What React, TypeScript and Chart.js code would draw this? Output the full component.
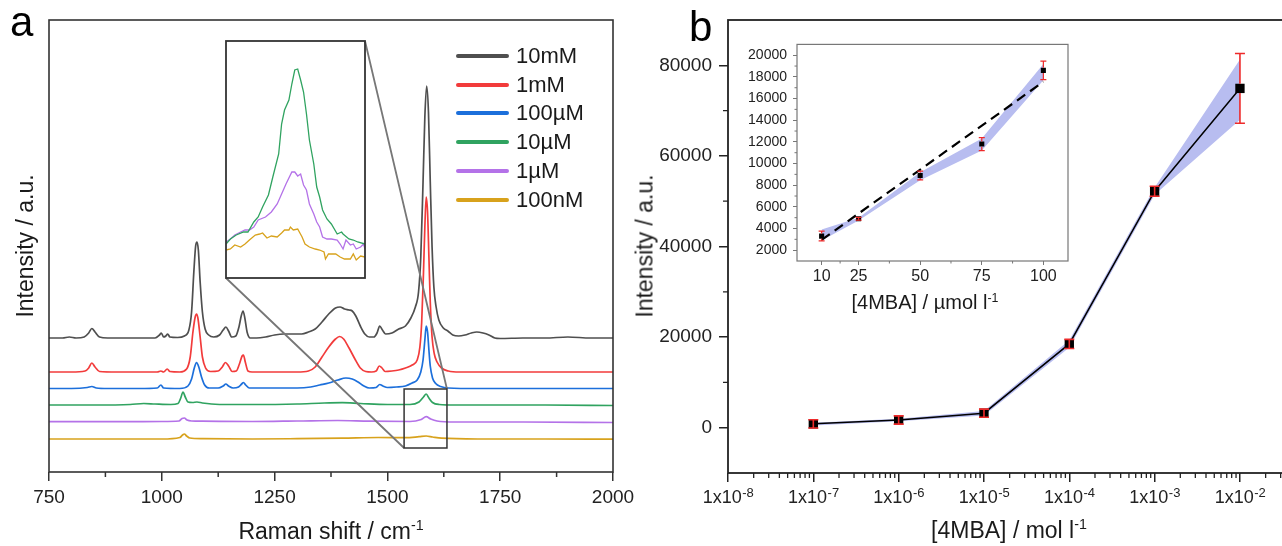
import React, { useEffect, useRef } from 'react';
import { Chart, registerables } from 'chart.js';
Chart.register(...registerables);

const FONT = '"Liberation Sans", Arial, Helvetica, sans-serif';

// ---------------- Panel a : Raman spectra ----------------
const spectraLabels = ['10mM', '1mM', '100µM', '10µM', '1µM', '100nM'];
const spectraColors = ['#4f4f4f', '#f23b3b', '#1c6fdb', '#30a360', '#b472e8', '#d8a21c'];

const spec10mM: number[][] = [
  [750, 134], [780, 134], [795, 135], [810, 134], [828, 135], [838, 139], [845, 143.5], [852, 140], [862, 135], [880, 134],
  [920, 134], [960, 134], [985, 134], [995, 137], [999, 139], [1004, 135], [1009, 136], [1013, 138], [1018, 135], [1035, 134.5],
  [1050, 136], [1060, 142], [1066, 160], [1071, 200], [1075, 226], [1078, 230], [1081, 222], [1085, 190], [1090, 160], [1096, 143],
  [1104, 137], [1115, 135], [1128, 137], [1136, 142], [1142, 145], [1148, 141], [1155, 135], [1164, 136], [1171, 145], [1176, 156],
  [1180, 161], [1184, 154], [1189, 140], [1196, 134], [1210, 134], [1230, 135], [1250, 137], [1270, 138], [1290, 138], [1310, 138],
  [1325, 140], [1340, 143], [1355, 150], [1370, 158], [1385, 164], [1395, 165], [1405, 163], [1415, 162], [1422, 161], [1430, 156],
  [1440, 146], [1450, 138], [1460, 135], [1470, 135], [1477, 139], [1483, 146], [1489, 142], [1496, 138], [1510, 139], [1525, 143],
  [1540, 146], [1552, 154], [1562, 165], [1569, 180], [1574, 215], [1579, 290], [1583, 355], [1587, 386], [1591, 360], [1595, 290],
  [1599, 225], [1603, 185], [1608, 165], [1614, 152], [1624, 144], [1634, 141], [1645, 137], [1658, 136], [1672, 137], [1686, 139],
  [1698, 140], [1712, 139], [1725, 137], [1738, 134], [1750, 133.5], [1800, 134], [1850, 134], [1900, 135], [1950, 134], [2000, 134],
];
const spec1mM: number[][] = [
  [750, 100], [800, 100], [830, 101], [838, 104], [845, 109], [852, 105], [862, 100.5], [900, 100], [950, 100], [990, 100],
  [998, 101], [1004, 100], [1012, 103], [1018, 100.5], [1040, 100], [1055, 103], [1063, 115], [1069, 140], [1074, 155], [1077, 158],
  [1080, 154], [1085, 135], [1090, 115], [1097, 104], [1108, 100.5], [1125, 101], [1134, 105], [1141, 109.5], [1148, 106], [1156, 100.5],
  [1165, 101], [1172, 108], [1178, 116], [1181, 117], [1185, 110], [1191, 101], [1200, 100], [1250, 100], [1300, 100], [1325, 101],
  [1340, 105], [1355, 115], [1370, 125], [1385, 133], [1394, 135.5], [1403, 133], [1415, 124], [1428, 113], [1440, 104], [1452, 100.5],
  [1465, 100], [1475, 101], [1482, 106], [1488, 104], [1495, 100.5], [1510, 101], [1525, 102], [1540, 104], [1555, 107], [1566, 112],
  [1572, 125], [1576, 150], [1580, 200], [1583, 245], [1586, 275], [1589, 260], [1592, 215], [1595, 170], [1599, 135], [1604, 118],
  [1610, 110], [1620, 104], [1635, 101], [1660, 100], [1700, 100], [1800, 100], [1900, 100], [2000, 100],
];
const spec100uM: number[][] = [
  [750, 83.5], [800, 83.5], [835, 84.5], [845, 85.5], [855, 84], [880, 83.5], [950, 83.5], [990, 84], [998, 87], [1004, 84],
  [1040, 83.5], [1058, 86], [1066, 93], [1072, 104], [1077, 109.5], [1082, 105], [1088, 95], [1095, 87], [1105, 84], [1125, 84],
  [1136, 86], [1142, 88], [1148, 86], [1158, 84], [1170, 85], [1177, 88], [1181, 89.5], [1186, 87], [1194, 84], [1250, 84],
  [1300, 84], [1330, 85], [1350, 87], [1370, 89], [1390, 92], [1408, 94], [1422, 93], [1435, 90], [1448, 86], [1460, 84],
  [1475, 84.5], [1483, 87.5], [1490, 86], [1500, 84.5], [1520, 85], [1540, 86], [1555, 89], [1566, 92], [1574, 100], [1579, 112],
  [1583, 132], [1586, 146], [1589, 140], [1592, 122], [1595, 106], [1600, 94], [1607, 88.5], [1618, 85.5], [1635, 84], [1700, 83.5],
  [1800, 83.5], [2000, 83.5],
];
const spec10uM: number[][] = [
  [750, 67], [850, 67], [930, 67.5], [960, 68.5], [985, 68], [1020, 67.5], [1036, 68.5], [1042, 74], [1047, 80], [1052, 75],
  [1058, 70], [1068, 69.5], [1078, 70], [1090, 69], [1110, 68], [1150, 67.5], [1200, 67.5], [1300, 68], [1360, 69], [1400, 69.3],
  [1440, 68.5], [1500, 67.5], [1550, 67.5], [1570, 70], [1580, 75], [1586, 78], [1592, 74], [1600, 69.5], [1615, 67.5], [1650, 67],
  [1750, 67], [1850, 67], [2000, 66.5],
];
const spec1uM: number[][] = [
  [750, 50.3], [900, 50.3], [1000, 50.5], [1038, 51], [1045, 53.5], [1050, 54], [1056, 52], [1066, 51], [1090, 50.8], [1200, 50.5],
  [1300, 51], [1390, 51.5], [1460, 50.8], [1550, 50.5], [1575, 52.5], [1586, 55.3], [1596, 53], [1610, 51], [1650, 50], [1800, 50],
  [2000, 49.5],
];
const spec100nM: number[][] = [
  [750, 33], [900, 33], [1000, 33], [1040, 34.5], [1046, 37], [1050, 38], [1055, 36], [1062, 34], [1090, 33.3], [1200, 33],
  [1300, 33.3], [1400, 33.8], [1480, 34.5], [1540, 34.3], [1570, 35.3], [1586, 36], [1600, 35], [1620, 33.8], [1700, 33], [1850, 33],
  [2000, 32.8],
];
const spectra = [spec10mM, spec1mM, spec100uM, spec10uM, spec1uM, spec100nM];

const ramanRange = [750, 2000];
const ramanTicks = [750, 1000, 1250, 1500, 1750, 2000];
const ramanMinorTicks = [875, 1125, 1375, 1625, 1875];
const spectraYRange = [0, 452];

// zoom window (shown in the inset)
const zoomWindowX = [1537, 1632];
const zoomWindowY = [24, 83];
const insetYRange = [0, 237];
const insetGreen: number[][] = [
  [1537, 34], [1540, 39], [1544, 43], [1549, 46], [1552, 46], [1556, 56], [1559, 61], [1562, 71], [1566, 83], [1569, 101],
  [1573, 124], [1575, 154], [1577, 168], [1580, 178], [1582, 194], [1584, 208], [1586, 209], [1588, 198], [1590, 186], [1592, 164],
  [1594, 138], [1597, 114], [1599, 91], [1601, 81], [1603, 68], [1606, 59], [1609, 54], [1613, 44], [1616, 46], [1617, 44],
  [1621, 39], [1624, 38], [1627, 36], [1632, 34],
];
const insetPurple: number[][] = [
  [1537, 36], [1540, 39], [1543, 43], [1547, 46], [1550, 48], [1553, 48], [1556, 51], [1559, 58], [1564, 61], [1568, 66],
  [1572, 74], [1575, 84], [1578, 94], [1582, 106], [1584, 106], [1586, 102], [1588, 104], [1590, 93], [1592, 88], [1594, 74],
  [1597, 64], [1599, 56], [1601, 51], [1603, 41], [1606, 39], [1609, 39], [1613, 38], [1615, 34], [1617, 29], [1619, 38],
  [1622, 33], [1624, 34], [1626, 29], [1629, 31], [1631, 34], [1632, 29],
];
const insetGold: number[][] = [
  [1537, 28], [1540, 29], [1543, 33], [1547, 31], [1550, 34], [1553, 38], [1557, 43], [1560, 44], [1562, 45], [1565, 40],
  [1568, 42], [1572, 41], [1575, 45], [1577, 48], [1580, 48], [1581, 51], [1583, 48], [1586, 49], [1589, 41], [1591, 34],
  [1594, 31], [1598, 29], [1601, 28], [1604, 26], [1605, 19], [1607, 24], [1612, 24], [1615, 21], [1618, 19], [1622, 19],
  [1624, 24], [1626, 18], [1629, 22], [1632, 21],
];

// ---------------- Panel b : calibration ----------------
const concentrations = [1e-7, 1e-6, 1e-5, 1e-4, 1e-3, 1e-2];
const intensities = [850, 1700, 3200, 18500, 52200, 74900];
const intensityErr = [900, 900, 900, 1000, 1100, 7700];
const bandUpper = [1100, 2000, 3700, 19300, 53000, 81300];
const bandLower = [500, 1400, 2700, 17700, 51400, 68000];
const bYRange = [-10000, 90000];
const bYTicks = [0, 20000, 40000, 60000, 80000];
const bYMinorTicks = [10000, 30000, 50000, 70000];
const logExponents = [-8, -7, -6, -5, -4, -3, -2];
const bXMax = 0.0386;

const insetConc = [10, 25, 50, 75, 100];
const insetIntensity = [3300, 4900, 8900, 11800, 18600];
const insetErr = [450, 120, 400, 600, 850];
const insetBandUpper = [3900, 5000, 9200, 12300, 19200];
const insetBandLower = [2900, 4750, 8450, 11200, 17700];
const fitX = [10, 100];
const fitY = [2950, 17550];
const insetXRange = [0, 110];
const insetYRangeB = [1000, 21000];
const insetXTicks = [10, 25, 50, 75, 100];
const insetXMinorTicks = [17.5, 37.5, 62.5, 87.5];
const insetYTicks = [2000, 4000, 6000, 8000, 10000, 12000, 14000, 16000, 18000, 20000];
const insetYMinorTicks = [3000, 5000, 7000, 9000, 11000, 13000, 15000, 17000, 19000];

// ---------------- layout (page pixels) ----------------
const INSET_A = { left: 226, top: 41, right: 365, bottom: 278 };

const pts = (arr: number[][]) => arr.map(([x, y]) => ({ x, y }));
const zip = (xs: number[], ys: number[]) => xs.map((x, i) => ({ x, y: ys[i] }));

const framePlugin = (id: string, color: string, width: number) => ({
  id,
  afterDatasetsDraw(chart: any) {
    const { ctx, chartArea: a } = chart;
    ctx.save();
    ctx.strokeStyle = color;
    ctx.lineWidth = width;
    ctx.strokeRect(a.left, a.top, a.right - a.left, a.bottom - a.top);
    ctx.restore();
  },
});

const minorTicksPlugin = (id: string, specs: any[]) => ({
  id,
  afterDraw(chart: any) {
    const { ctx, chartArea: a } = chart;
    ctx.save();
    specs.forEach((s) => {
      const sc = chart.scales[s.axis];
      ctx.strokeStyle = s.color;
      ctx.lineWidth = s.width;
      ctx.beginPath();
      s.values.forEach((v: number) => {
        const p = sc.getPixelForValue(v);
        if (s.axis === 'x') {
          ctx.moveTo(p, a.bottom);
          ctx.lineTo(p, a.bottom + s.length);
        } else {
          ctx.moveTo(a.left, p);
          ctx.lineTo(a.left - s.length, p);
        }
      });
      ctx.stroke();
    });
    ctx.restore();
  },
});

const errorBarPlugin = (id: string, dsIndex: number, errors: number[], color: string, capHalf: number, markerHalf: number, lw: number) => ({
  id,
  afterDatasetsDraw(chart: any) {
    const meta = chart.getDatasetMeta(dsIndex);
    const ds = chart.data.datasets[dsIndex];
    const ys = chart.scales.y;
    const ctx = chart.ctx;
    ctx.save();
    ctx.strokeStyle = color;
    ctx.lineWidth = lw;
    meta.data.forEach((pt: any, i: number) => {
      const v = ds.data[i].y;
      const x = pt.x;
      const yc = pt.y;
      const yTop = ys.getPixelForValue(v + errors[i]);
      const yBot = ys.getPixelForValue(v - errors[i]);
      ctx.beginPath();
      if (yc - yTop > markerHalf + 1) {
        ctx.moveTo(x, yTop); ctx.lineTo(x, yc - markerHalf);
        ctx.moveTo(x, yc + markerHalf); ctx.lineTo(x, yBot);
      } else {
        ctx.moveTo(x, yTop); ctx.lineTo(x, yBot);
      }
      ctx.moveTo(x - capHalf, yTop); ctx.lineTo(x + capHalf, yTop);
      ctx.moveTo(x - capHalf, yBot); ctx.lineTo(x + capHalf, yBot);
      ctx.stroke();
    });
    ctx.restore();
  },
});

const connectorPlugin = {
  id: 'connector',
  afterDatasetsDraw(chart: any) {
    const { ctx } = chart;
    const xs = chart.scales.x;
    const ys = chart.scales.y;
    const x1 = xs.getPixelForValue(zoomWindowX[0]);
    const x2 = xs.getPixelForValue(zoomWindowX[1]);
    const y1 = ys.getPixelForValue(zoomWindowY[1]);
    const y2 = ys.getPixelForValue(zoomWindowY[0]);
    ctx.save();
    ctx.strokeStyle = '#777';
    ctx.lineWidth = 1.8;
    ctx.beginPath();
    ctx.moveTo(INSET_A.right, INSET_A.top);
    ctx.lineTo(x2, y1);
    ctx.moveTo(INSET_A.left, INSET_A.bottom);
    ctx.lineTo(x1, y2);
    ctx.stroke();
    ctx.strokeStyle = '#333';
    ctx.lineWidth = 1.5;
    ctx.strokeRect(x1, y1, x2 - x1, y2 - y1);
    ctx.restore();
  },
};

const logLabelPlugin = {
  id: 'logLabels',
  afterDraw(chart: any) {
    const xs = chart.scales.x;
    const { ctx, chartArea } = chart;
    ctx.save();
    ctx.fillStyle = '#222';
    ctx.textBaseline = 'alphabetic';
    ctx.textAlign = 'left';
    logExponents.forEach((e) => {
      const px = xs.getPixelForValue(Math.pow(10, e));
      const base = '1x10';
      const sup = String(e);
      ctx.font = `18px ${FONT}`;
      const w1 = ctx.measureText(base).width;
      ctx.font = `13px ${FONT}`;
      const w2 = ctx.measureText(sup).width;
      const x0 = px - (w1 + w2) / 2;
      const yb = chartArea.bottom + 30;
      ctx.font = `18px ${FONT}`;
      ctx.fillText(base, x0, yb);
      ctx.font = `13px ${FONT}`;
      ctx.fillText(sup, x0 + w1 + 0.5, yb - 6.5);
    });
    ctx.restore();
  },
};

const logMinorTicks: number[] = [];
logExponents.forEach((e) => {
  for (let k = 2; k <= 9; k++) {
    const v = k * Math.pow(10, e);
    if (v < bXMax) logMinorTicks.push(v);
  }
});

function ChartCanvas({ left, top, width, height, make }: any) {
  const ref = useRef<HTMLCanvasElement>(null);
  useEffect(() => {
    const chart = new Chart(ref.current as HTMLCanvasElement, make());
    return () => chart.destroy();
  }, []);
  return (
    <canvas
      ref={ref}
      width={width}
      height={height}
      style={{ position: 'absolute', left, top, width, height }}
    />
  );
}

const baseOptions = {
  responsive: false,
  maintainAspectRatio: false,
  animation: false,
  devicePixelRatio: 1,
  events: [],
  plugins: { legend: { display: false }, tooltip: { enabled: false } },
};

function makeSpectra(): any {
  return {
    type: 'line',
    data: {
      datasets: spectra.map((s, i) => ({
        label: spectraLabels[i],
        data: pts(s),
        borderColor: spectraColors[i],
        borderWidth: 1.7,
        pointRadius: 0,
        cubicInterpolationMode: 'monotone',
        fill: false,
      })),
    },
    options: {
      ...baseOptions,
      layout: { padding: { left: 49, top: 20, right: 27, bottom: 0 } },
      scales: {
        x: {
          type: 'linear',
          min: ramanRange[0],
          max: ramanRange[1],
          afterBuildTicks: (sc: any) => { sc.ticks = ramanTicks.map((v) => ({ value: v })); },
          afterFit: (sc: any) => { sc.height = 74; },
          ticks: { font: { family: FONT, size: 19 }, color: '#222', padding: 5, maxRotation: 0, autoSkip: false, callback: (v: any) => String(v) },
          grid: { drawOnChartArea: false, drawTicks: true, tickLength: 9, color: '#333', lineWidth: 1.5 },
          border: { display: false },
        },
        y: { type: 'linear', display: false, min: spectraYRange[0], max: spectraYRange[1] },
      },
    },
    plugins: [
      framePlugin('frameA', '#333', 1.6),
      minorTicksPlugin('minorA', [{ axis: 'x', values: ramanMinorTicks, length: 5, color: '#333', width: 1.5 }]),
      connectorPlugin,
    ],
  };
}

function makeInsetA(): any {
  const sets = [insetGreen, insetPurple, insetGold];
  const cols = [spectraColors[3], spectraColors[4], spectraColors[5]];
  return {
    type: 'line',
    data: {
      datasets: sets.map((s, i) => ({
        data: pts(s),
        borderColor: cols[i],
        borderWidth: 1.3,
        pointRadius: 0,
        fill: false,
        tension: 0,
      })),
    },
    options: {
      ...baseOptions,
      layout: { padding: 4 },
      scales: {
        x: { type: 'linear', display: false, min: zoomWindowX[0], max: zoomWindowX[1] },
        y: { type: 'linear', display: false, min: insetYRange[0], max: insetYRange[1] },
      },
    },
    plugins: [framePlugin('frameInsetA', '#333', 1.8)],
  };
}

function makeCalib(): any {
  return {
    type: 'line',
    data: {
      datasets: [
        { data: zip(concentrations, bandLower), borderWidth: 0, pointRadius: 0, fill: false, order: 5 },
        { data: zip(concentrations, bandUpper), borderWidth: 0, pointRadius: 0, fill: '-1', backgroundColor: '#b8bdf0', order: 4 },
        {
          data: zip(concentrations, intensities),
          borderColor: '#000',
          borderWidth: 1.5,
          pointStyle: 'rect',
          pointRadius: 6.6,
          pointBackgroundColor: '#000',
          pointBorderWidth: 0,
          fill: false,
          order: 0,
        },
      ],
    },
    options: {
      ...baseOptions,
      layout: { padding: { left: 0, top: 20, right: 10, bottom: 0 } },
      scales: {
        x: {
          type: 'logarithmic',
          min: 1e-8,
          max: bXMax,
          afterBuildTicks: (sc: any) => { sc.ticks = logExponents.map((e) => ({ value: Math.pow(10, e) })); },
          afterFit: (sc: any) => { sc.height = 73; },
          ticks: { display: false },
          grid: { drawOnChartArea: false, drawTicks: true, tickLength: 9, color: '#222', lineWidth: 1.5 },
          border: { display: false },
        },
        y: {
          type: 'linear',
          min: bYRange[0],
          max: bYRange[1],
          afterBuildTicks: (sc: any) => { sc.ticks = bYTicks.map((v) => ({ value: v })); },
          afterFit: (sc: any) => { sc.width = 88; },
          ticks: { font: { family: FONT, size: 19 }, color: '#222', padding: 7, callback: (v: any) => String(v) },
          grid: { drawOnChartArea: false, drawTicks: true, tickLength: 9, color: '#222', lineWidth: 1.5 },
          border: { display: false },
        },
      },
    },
    plugins: [
      framePlugin('frameB', '#222', 1.8),
      minorTicksPlugin('minorB', [
        { axis: 'x', values: logMinorTicks, length: 5, color: '#222', width: 1.3 },
        { axis: 'y', values: bYMinorTicks, length: 5, color: '#222', width: 1.3 },
      ]),
      errorBarPlugin('errB', 2, intensityErr, '#ee2a2a', 5, 4.6, 1.6),
      logLabelPlugin,
    ],
  };
}

function makeInsetB(): any {
  return {
    type: 'line',
    data: {
      datasets: [
        { data: zip(insetConc, insetBandLower), borderWidth: 0, pointRadius: 0, fill: false, order: 5 },
        { data: zip(insetConc, insetBandUpper), borderWidth: 0, pointRadius: 0, fill: '-1', backgroundColor: '#b8bdf0', order: 4 },
        { data: zip(fitX, fitY), borderColor: '#000', borderWidth: 2.2, borderDash: [10, 6], pointRadius: 0, fill: false, order: 1 },
        {
          data: zip(insetConc, insetIntensity),
          showLine: false,
          pointStyle: 'rect',
          pointRadius: 3.6,
          pointBackgroundColor: '#000',
          pointBorderWidth: 0,
          order: 0,
        },
      ],
    },
    options: {
      ...baseOptions,
      layout: { padding: { left: 0, top: 14, right: 12, bottom: 0 } },
      scales: {
        x: {
          type: 'linear',
          min: insetXRange[0],
          max: insetXRange[1],
          afterBuildTicks: (sc: any) => { sc.ticks = insetXTicks.map((v) => ({ value: v })); },
          afterFit: (sc: any) => { sc.height = 69; },
          ticks: { font: { family: FONT, size: 16 }, color: '#222', padding: 2, maxRotation: 0, autoSkip: false, callback: (v: any) => String(v) },
          grid: { drawOnChartArea: false, drawTicks: true, tickLength: 4, color: '#777', lineWidth: 1 },
          border: { display: false },
        },
        y: {
          type: 'linear',
          min: insetYRangeB[0],
          max: insetYRangeB[1],
          afterBuildTicks: (sc: any) => { sc.ticks = insetYTicks.map((v) => ({ value: v })); },
          afterFit: (sc: any) => { sc.width = 97; },
          ticks: { font: { family: FONT, size: 14 }, color: '#222', padding: 6, autoSkip: false, callback: (v: any) => String(v) },
          grid: { drawOnChartArea: false, drawTicks: true, tickLength: 4, color: '#777', lineWidth: 1 },
          border: { display: false },
        },
      },
    },
    plugins: [
      framePlugin('frameInsetB', '#777', 1.2),
      minorTicksPlugin('minorInsetB', [
        { axis: 'x', values: insetXMinorTicks, length: 2.5, color: '#777', width: 1 },
        { axis: 'y', values: insetYMinorTicks, length: 2.5, color: '#777', width: 1 },
      ]),
      errorBarPlugin('errInsetB', 3, insetErr, '#ee2a2a', 3, 2.6, 1.2),
    ],
  };
}

const sup = (s: string) => (
  <span style={{ fontSize: '0.62em', position: 'relative', top: '-0.6em' }}>{s}</span>
);

const centered = (x: number, y: number, size: number, rotate = false): React.CSSProperties => ({
  position: 'absolute',
  left: x,
  top: y,
  transform: `translate(-50%, -50%)${rotate ? ' rotate(-90deg)' : ''}`,
  fontSize: size,
  lineHeight: 1,
  whiteSpace: 'nowrap',
  color: '#1a1a1a',
});

export default function App() {
  return (
    <div
      style={{
        position: 'fixed',
        left: 0,
        top: 0,
        width: 1282,
        height: 546,
        overflow: 'hidden',
        background: '#fff',
        fontFamily: FONT,
      }}
    >
      <ChartCanvas left={0} top={0} width={640} height={546} make={makeSpectra} />
      <ChartCanvas left={222} top={37} width={147} height={245} make={makeInsetA} />
      <ChartCanvas left={640} top={0} width={660} height={546} make={makeCalib} />
      <ChartCanvas left={700} top={30} width={380} height={300} make={makeInsetB} />

      <div style={{ position: 'absolute', left: 10, top: 1, fontSize: 42, lineHeight: 1, color: '#000' }}>a</div>
      <div style={{ position: 'absolute', left: 689, top: 6, fontSize: 42, lineHeight: 1, color: '#000' }}>b</div>

      <div style={centered(331, 531, 23)}>Raman shift / cm{sup('-1')}</div>
      <div style={centered(25, 246, 23, true)}>Intensity / a.u.</div>
      <div style={centered(645, 246, 23, true)}>Intensity / a.u.</div>
      <div style={centered(1009, 530, 23)}>[4MBA] / mol l{sup('-1')}</div>
      <div style={centered(925, 302, 20)}>[4MBA] / µmol l{sup('-1')}</div>

      {spectraLabels.map((lab, i) => (
        <div key={lab}>
          <div
            style={{
              position: 'absolute',
              left: 456,
              top: 55.7 + i * 28.8 - 2,
              width: 53,
              height: 4,
              borderRadius: 2,
              background: spectraColors[i],
            }}
          />
          <div style={{ position: 'absolute', left: 516, top: 55.7 + i * 28.8 - 11, fontSize: 22, lineHeight: '22px', color: '#1a1a1a', whiteSpace: 'nowrap' }}>
            {lab}
          </div>
        </div>
      ))}
    </div>
  );
}
